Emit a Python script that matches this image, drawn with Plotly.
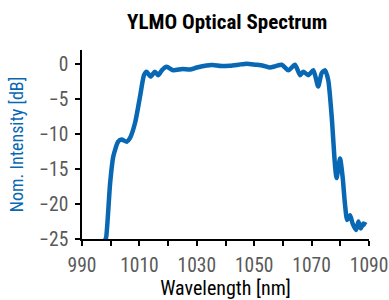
import plotly.graph_objects as go

wavelength = [998.0, 998.4, 999.8, 1000.9, 1002.6, 1003.8, 1005.6, 1006.7, 1008.5, 1010.2,
              1011.6, 1012.5, 1013.9, 1015.4, 1016.6, 1017.8, 1019.5, 1021.8, 1025.0, 1027.6,
              1030.0, 1033.4, 1035.6, 1038.5, 1041.6, 1044.5, 1047.4, 1050.5, 1053.1, 1055.5,
              1057.5, 1059.6, 1061.9, 1064.2, 1066.0, 1067.1, 1068.9, 1070.6, 1072.3, 1073.5,
              1074.7, 1075.8, 1077.0, 1078.2, 1078.7, 1079.9, 1080.8, 1081.6, 1082.4, 1083.4,
              1084.3, 1085.5, 1086.3, 1087.1, 1088.0, 1089.0]
intensity = [-25.2, -24.8, -17.0, -13.2, -11.1, -10.8, -11.1, -10.6, -8.4, -4.7,
             -1.6, -1.1, -1.8, -1.1, -1.6, -0.9, -0.4, -0.9, -0.7, -0.8,
             -0.5, -0.2, -0.15, -0.3, -0.24, -0.1, 0.05, -0.1, -0.24, -0.5,
             -0.3, -0.1, -0.9, -0.1, -1.6, -1.1, -1.6, -0.9, -3.2, -1.3,
             -0.9, -2.3, -7.5, -14.7, -16.3, -13.5, -16.1, -19.9, -22.3, -21.6,
             -22.8, -23.7, -22.5, -23.5, -22.8, -23.0]

x_tick_vals = [990, 1000, 1010, 1020, 1030, 1040, 1050, 1060, 1070, 1080, 1090]
x_tick_text = ["990", "", "1010", "", "1030", "", "1050", "", "1070", "", "1090"]
y_tick_vals = [0, -5, -10, -15, -20, -25]

BLUE = "#0868B4"
FONT = "Roboto Condensed, Liberation Sans, Arial, sans-serif"

fig = go.Figure()
fig.add_trace(go.Scatter(
    x=wavelength, y=intensity, mode="lines",
    line=dict(color=BLUE, width=4.5, shape="spline", smoothing=0.6),
    showlegend=False,
))

fig.update_layout(
    width=389, height=300,
    margin=dict(l=82, r=20, t=50, b=61, autoexpand=False),
    paper_bgcolor="white", plot_bgcolor="white",
    font=dict(family=FONT),
    title=dict(text="<b>YLMO Optical Spectrum</b>", x=0.584, xanchor="center",
               y=0.927, yanchor="middle",
               font=dict(size=21, color="black")),
)
fig.update_xaxes(
    range=[990, 1090], tickvals=x_tick_vals, ticktext=x_tick_text,
    ticks="outside", ticklen=5, tickwidth=1.5, tickcolor="black",
    showline=True, linecolor="black", linewidth=1.5,
    showgrid=False, zeroline=False, automargin=False,
    ticklabelstandoff=3, ticklabeloverflow="allow",
    tickfont=dict(size=19.5, color="#595959"),
    title=dict(text="Wavelength [nm]", font=dict(size=20, color="black"), standoff=3),
)
fig.update_yaxes(
    range=[-25, 2], tickvals=y_tick_vals,
    ticks="outside", ticklen=5, tickwidth=1.5, tickcolor="black",
    showline=True, linecolor="black", linewidth=1.5,
    showgrid=False, zeroline=False, automargin=False,
    ticklabelstandoff=3, ticklabeloverflow="allow",
    tickfont=dict(size=19.5, color="#595959"),
    title=dict(text="Nom. Intensity [dB]", font=dict(size=18, color=BLUE), standoff=11),
)

fig.write_html(
    "out.html",
    config={"displayModeBar": False},
    post_script="document.body.style.margin='0';document.body.style.overflow='hidden';",
)
